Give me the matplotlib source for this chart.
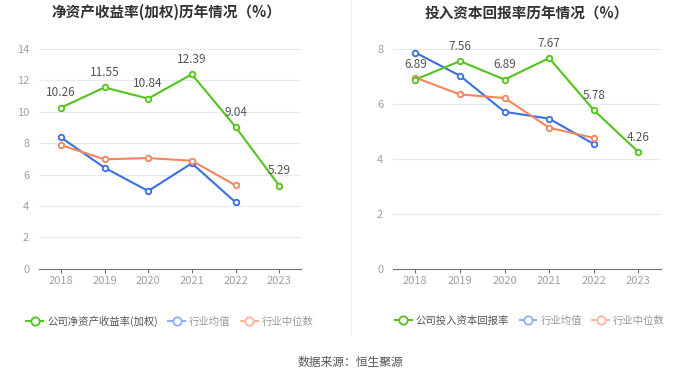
import matplotlib.pyplot as plt
from matplotlib.lines import Line2D

plt.rcParams['font.family'] = ['Noto Sans CJK SC', 'DejaVu Sans']

# Data
years = ['2018', '2019', '2020', '2021', '2022', '2023']

roe_company = [10.26, 11.55, 10.84, 12.39, 9.04, 5.29]
roe_avg = [8.37, 6.44, 4.95, 6.72, 4.23]
roe_median = [7.88, 6.97, 7.05, 6.88, 5.31]

roic_company = [6.89, 7.56, 6.89, 7.67, 5.78, 4.26]
roic_avg = [7.87, 7.03, 5.72, 5.47, 4.55]
roic_median = [6.96, 6.35, 6.22, 5.14, 4.77]

roe_ticks = [0, 2, 4, 6, 8, 10, 12, 14]
roic_ticks = [0, 2, 4, 6, 8]

green = '#52c41a'
blue = '#3a6ee8'
orange = '#f8845a'

fig = plt.figure(figsize=(7, 3.78), dpi=100)


def draw_panel(rect, company, avg, median, ticks, title, title_x, company_name, legend_x):
    ax = fig.add_axes(rect)
    x = list(range(len(years)))
    mk = dict(marker='o', markersize=4, markerfacecolor='white', markeredgewidth=1.3, linewidth=1.5)
    ax.plot(x[:len(avg)], avg, color=blue, zorder=3, **mk)
    ax.plot(x[:len(median)], median, color=orange, zorder=3, **mk)
    ax.plot(x, company, color=green, zorder=4, **mk)
    for xi, v in zip(x, company):
        ax.annotate(f'{v:.2f}', (xi, v), xytext=(0, 6), textcoords='offset points',
                    ha='center', va='bottom', fontsize=8.5, color='#555555', zorder=5)

    ax.set_xlim(-0.5, len(years) - 0.5)
    ax.set_ylim(ticks[0], ticks[-1])
    ax.set_xticks(x)
    ax.set_xticklabels(years)
    ax.set_yticks(ticks)
    ax.grid(axis='y', color='#e6eaf2', linewidth=0.8)
    ax.set_axisbelow(True)
    for s in ['top', 'right', 'left']:
        ax.spines[s].set_visible(False)
    ax.spines['bottom'].set_color('#6e7079')
    ax.tick_params(axis='both', length=0, labelsize=8, labelcolor='#a0a0a0', pad=7)
    ax.tick_params(axis='x', length=3, color='#6e7079', pad=2)

    fig.text(title_x, 0.968, title, ha='center', va='center', fontsize=10.5,
             fontweight='bold', color='#333333')

    handles = [
        Line2D([], [], color=green, marker='o', markersize=6, markerfacecolor='white', markeredgewidth=1.3, linewidth=1.5),
        Line2D([], [], color='#8fb0f5', marker='o', markersize=6, markerfacecolor='white', markeredgewidth=1.3, linewidth=1.5),
        Line2D([], [], color='#f9b79e', marker='o', markersize=6, markerfacecolor='white', markeredgewidth=1.3, linewidth=1.5),
    ]
    leg = fig.legend(handles, [company_name, '行业均值', '行业中位数'], loc='center',
                     bbox_to_anchor=(legend_x, 1 - 321 / 378), ncol=3, frameon=False,
                     fontsize=7.5, handlelength=1.6, handletextpad=0.4, columnspacing=1.0)
    for t, c in zip(leg.get_texts(), ['#555555', '#999999', '#999999']):
        t.set_color(c)
    return ax


draw_panel([39 / 700, 1 - 268.7 / 378, 262 / 700, 219.7 / 378], roe_company, roe_avg, roe_median,
           roe_ticks, '净资产收益率(加权)历年情况（%）', 166 / 700, '公司净资产收益率(加权)', 170 / 700)
draw_panel([393 / 700, 1 - 269.3 / 378, 267.7 / 700, 220.3 / 378], roic_company, roic_avg, roic_median,
           roic_ticks, '投入资本回报率历年情况（%）', 527 / 700, '公司投入资本回报率', 530 / 700)

# divider between panels
fig.add_artist(Line2D([351 / 700, 351 / 700], [1 - 335 / 378, 1.0], color='#f0f0f0', linewidth=0.8))

fig.text(0.5, 1 - 362 / 378, '数据来源：恒生聚源', ha='center', va='center', fontsize=8.5, color='#555555')

fig.savefig('out.png', dpi=100)
